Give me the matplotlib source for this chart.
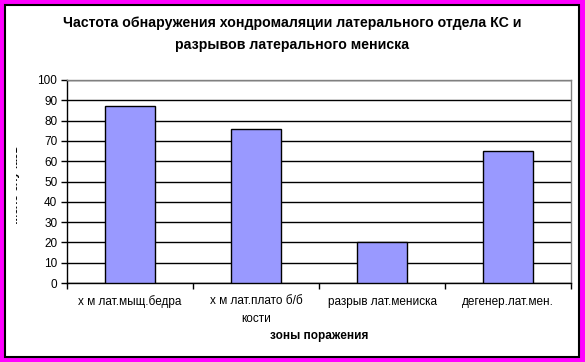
import matplotlib
matplotlib.use("Agg")
import matplotlib.pyplot as plt
import matplotlib.patches as mpatches
from matplotlib.transforms import Bbox, TransformedBbox

plt.rcParams['font.family'] = ['Liberation Sans', 'DejaVu Sans']

TITLE = "Частота обнаружения хондромаляции латерального отдела КС и\nразрывов латерального мениска"
categories = ["х м лат.мыщ.бедра", "х м лат.плато б/б\nкости",
              "разрыв лат.мениска", "дегенер.лат.мен."]
values = [87, 76, 20, 65]
y_ticks = list(range(0, 101, 10))
x_label = "зоны поражения"
y_label = "число случаев"

W, H = 585, 362
fig = plt.figure(figsize=(W / 100, H / 100), dpi=100)
fig.patch.set_facecolor('#FF00FF')

# white chart area with black border
frame = mpatches.Rectangle((5 / W, 5 / H), 574 / W, 352 / H, transform=fig.transFigure,
                           facecolor='white', edgecolor='black', linewidth=1.5, zorder=0)
fig.patches.append(frame)

ax = fig.add_axes([67 / W, 1 - 283 / H, (571 - 67) / W, (283 - 80) / H])
ax.set_zorder(2)
ax.set_facecolor('white')

x = range(len(categories))
ax.bar(x, values, width=0.4, color='#9999FF', edgecolor='black', linewidth=1, zorder=3)

ax.set_xlim(-0.5, len(categories) - 0.5)
ax.set_ylim(0, 100)
ax.set_yticks(y_ticks)
ax.yaxis.grid(True, color='black', linewidth=1, zorder=1)
ax.set_axisbelow(True)

# category boundaries as tick marks, labels in the middle
ax.set_xticks([i - 0.5 for i in range(len(categories) + 1)])
ax.set_xticklabels([])
ax.set_xticks(list(x), minor=True)
ax.set_xticklabels(categories, minor=True, fontsize=8.5)
for lbl in ax.get_xticklabels(minor=True):
    lbl.set_linespacing(1.65)
ax.tick_params(axis='x', which='minor', length=0, pad=9)
ax.tick_params(axis='x', which='major', length=4, width=1, color='black')
ax.tick_params(axis='y', length=4, width=1, labelsize=8.5, pad=3)

for side in ['top', 'right']:
    ax.spines[side].set_color('#808080')
    ax.spines[side].set_linewidth(1)
for side in ['left', 'bottom']:
    ax.spines[side].set_color('black')
    ax.spines[side].set_linewidth(1)

ax.set_xlabel(x_label, fontsize=8.5, fontweight='bold', labelpad=3)

fig.text(292 / W, 1 - 34 / H, TITLE, ha='center', va='center', fontsize=10.2,
         fontweight='bold', linespacing=1.75)

# y label is cut off by the chart edge in the original
yl = fig.text(15 / W, 1 - 186 / H, y_label, rotation=90, ha='center', va='center',
              fontsize=8, fontweight='bold')
yl.set_clip_box(TransformedBbox(Bbox.from_extents(15.5 / W, 0, 30 / W, 1), fig.transFigure))
yl.set_clip_on(True)

fig.savefig('out.png', dpi=100, facecolor=fig.get_facecolor())
